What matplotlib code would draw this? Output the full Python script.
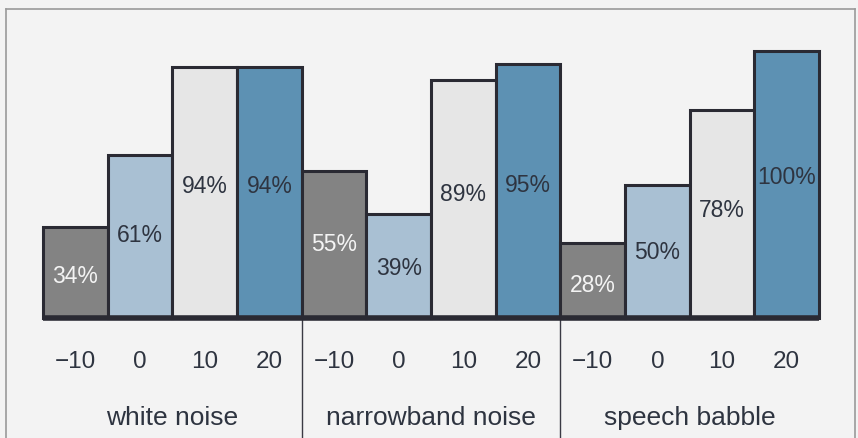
import numpy as np
import matplotlib.pyplot as plt
from matplotlib.lines import Line2D

plt.rcParams["font.family"] = ["Liberation Sans", "DejaVu Sans"]

# recognition scores (%) per noise type and SNR
groups = ["white noise", "narrowband noise", "speech babble"]
snr = ["\u221210", "0", "10", "20"]
white = [34, 61, 94, 94]
narrow = [55, 39, 89, 95]
babble = [28, 50, 78, 100]

colors = ["#838383", "#a9c0d3", "#e6e6e6", "#5d91b3"]
label_colors = ["#f4f4f4", "#2e3440", "#2e3440", "#2e3440"]

values = white + narrow + babble
x = np.arange(len(values))

fig = plt.figure(figsize=(8.58, 4.39), dpi=100)
fig.patch.set_facecolor("#f3f3f3")
ax = fig.add_axes([0, 0, 1, 1])
ax.set_facecolor("#f3f3f3")
ax.axis("off")

ax.bar(x, values, width=1.0, color=colors * 3, edgecolor="#2a2a33",
       linewidth=2.2, zorder=2)
ax.plot([-0.5, len(values) - 0.5], [0, 0], color="#2a2a33", lw=4,
        solid_capstyle="butt", zorder=3)

# value labels sit a bit above the middle of each bar
for xi, v, c in zip(x, values, label_colors * 3):
    ax.text(xi, 0.56 * v - 3, f"{v}%", ha="center", va="center",
            fontsize=16.5, color=c, zorder=4)

for xi, s in zip(x, snr * 3):
    ax.text(xi, -16, s, ha="center", va="center", fontsize=17.5,
            color="#2e3440")

for g, name in enumerate(groups):
    ax.text(g * 4 + 1.5, -37, name, ha="center", va="center",
            fontsize=19, color="#2e3440")

# separators between groups
for sep in [3.5, 7.5]:
    ax.plot([sep, sep], [0, -50], color="#3a3a44", lw=1, zorder=1)

ax.set_xlim(-1.165, 12.102)
ax.set_ylim(-44.9, 119.5)

# outer frame of the figure box
fw, fh = 858, 439
frame = dict(color="#9a9a9a", lw=1.2)
fig.add_artist(Line2D([6 / fw, 6 / fw], [0, 1 - 10 / fh], **frame))
fig.add_artist(Line2D([6 / fw, 855 / fw], [1 - 10 / fh, 1 - 10 / fh], **frame))
fig.add_artist(Line2D([855 / fw, 855 / fw], [0, 1 - 10 / fh], **frame))

fig.savefig("out.png", dpi=100, facecolor=fig.get_facecolor())
